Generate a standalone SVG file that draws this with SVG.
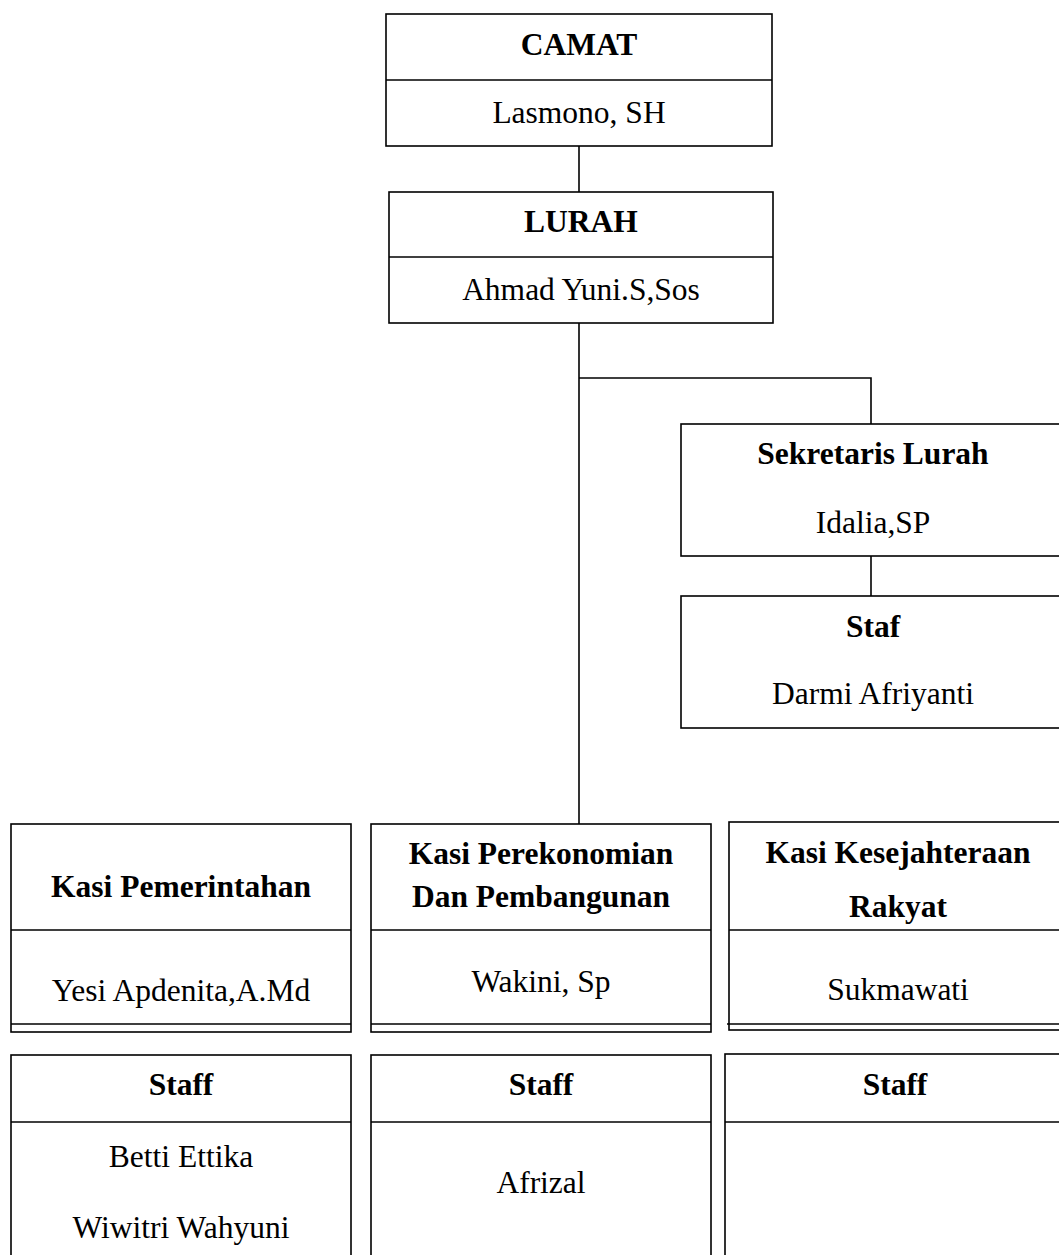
<svg xmlns="http://www.w3.org/2000/svg" width="1059" height="1255" viewBox="0 0 1059 1255">
<style>
.box{fill:#fff;stroke:#000;stroke-width:1.6}
.ln{stroke:#000;stroke-width:1.6;fill:none}
.t{font-family:"Liberation Serif","Times New Roman",serif;font-size:31.5px;fill:#000;text-anchor:middle}
.b{font-weight:bold}
</style>
<rect width="1059" height="1255" fill="#fff"/>
<g id="connectors">
<path class="ln" d="M579 146V192"/>
<path class="ln" d="M579 323V824"/>
<path class="ln" d="M579 378H871V424"/>
<path class="ln" d="M871 556V596"/>
</g>
<g id="camat">
<rect class="box" x="386" y="14" width="386" height="132"/>
<path class="ln" d="M386 80H772"/>
<text class="t b" x="579" y="55">CAMAT</text>
<text class="t" x="579" y="123">Lasmono, SH</text>
</g>
<g id="lurah">
<rect class="box" x="389" y="192" width="384" height="131"/>
<path class="ln" d="M389 257H773"/>
<text class="t b" x="581" y="232">LURAH</text>
<text class="t" x="581" y="300">Ahmad Yuni.S,Sos</text>
</g>
<g id="sekretaris">
<rect class="box" x="681" y="424" width="386" height="132"/>
<text class="t b" x="873" y="464">Sekretaris Lurah</text>
<text class="t" x="873" y="533">Idalia,SP</text>
</g>
<g id="staf-sekretaris">
<rect class="box" x="681" y="596" width="386" height="132"/>
<text class="t b" x="873" y="637">Staf</text>
<text class="t" x="873" y="704">Darmi Afriyanti</text>
</g>
<g id="kasi-pemerintahan">
<rect class="box" x="11" y="824" width="340" height="208"/>
<path class="ln" d="M11 930H351M11 1024H351"/>
<text class="t b" x="181" y="897">Kasi Pemerintahan</text>
<text class="t" x="181" y="1001">Yesi Apdenita,A.Md</text>
</g>
<g id="kasi-perekonomian">
<rect class="box" x="371" y="824" width="340" height="208"/>
<path class="ln" d="M371 930H711M371 1024H711"/>
<text class="t b" x="541" y="864">Kasi Perekonomian</text>
<text class="t b" x="541" y="907">Dan Pembangunan</text>
<text class="t" x="541" y="992">Wakini, Sp</text>
</g>
<g id="kasi-kesejahteraan">
<rect class="box" x="729" y="822" width="338" height="208"/>
<path class="ln" d="M729 930H1067M727 1024H1067"/>
<text class="t b" x="898" y="863">Kasi Kesejahteraan</text>
<text class="t b" x="898" y="917">Rakyat</text>
<text class="t" x="898" y="1000">Sukmawati</text>
</g>
<g id="staff-pemerintahan">
<rect class="box" x="11" y="1055" width="340" height="210"/>
<path class="ln" d="M11 1122H351"/>
<text class="t b" x="181" y="1095">Staff</text>
<text class="t" x="181" y="1167">Betti Ettika</text>
<text class="t" x="181" y="1238">Wiwitri Wahyuni</text>
</g>
<g id="staff-perekonomian">
<rect class="box" x="371" y="1055" width="340" height="210"/>
<path class="ln" d="M371 1122H711"/>
<text class="t b" x="541" y="1095">Staff</text>
<text class="t" x="541" y="1193">Afrizal</text>
</g>
<g id="staff-kesejahteraan">
<rect class="box" x="725" y="1054" width="342" height="211"/>
<path class="ln" d="M725 1122H1067"/>
<text class="t b" x="895" y="1095">Staff</text>
</g>
</svg>
